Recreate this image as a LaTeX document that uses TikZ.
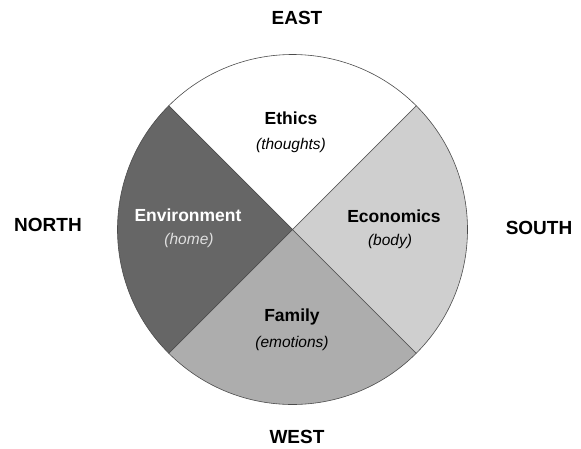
\documentclass[tikz,border=0pt]{standalone}
\usepackage{fontspec}
\setmainfont{Liberation Sans}
\begin{document}
\begin{tikzpicture}[x=1pt,y=-1pt,
  sector/.style={draw=black!70,line width=0.6pt},
  dir/.style={font=\bfseries\fontsize{19}{21}\selectfont},
  ttl/.style={font=\bfseries\fontsize{17.5}{19}\selectfont},
  sub/.style={font=\itshape\fontsize{15.5}{17}\selectfont}]
\useasboundingbox (0,0) rectangle (581,448);
\coordinate (c) at (292.5,229.5);
\def\R{175}
% bottom (Family)
\draw[sector,fill=black!32] (c) -- ++(45:\R) arc[start angle=45,end angle=135,radius=\R] -- cycle;
% right (Economics)
\draw[sector,fill=black!19] (c) -- ++(-45:\R) arc[start angle=-45,end angle=45,radius=\R] -- cycle;
% top (Ethics)
\draw[sector,fill=white] (c) -- ++(-135:\R) arc[start angle=-135,end angle=-45,radius=\R] -- cycle;
% left (Environment)
\draw[sector,fill=black!60] (c) -- ++(135:\R) arc[start angle=135,end angle=225,radius=\R] -- cycle;
\node[dir] (north) at (48,225) {NORTH};
\node[dir] (south) at (539,228) {SOUTH};
\node[dir] (east) at (297,17.5) {EAST};
\node[dir] (west) at (297,437) {WEST};
\node[ttl] (ethics) at (291,118) {Ethics};
\node[sub] (thoughts) at (291,145) {(thoughts)};
\node[ttl,text=white] (env) at (188,215) {Environment};
\node[sub,text=black!12] (home) at (189,240.5) {(home)};
\node[ttl] (eco) at (394,216) {Economics};
\node[sub] (body) at (390,241.5) {(body)};
\node[ttl] (fam) at (292,317) {Family};
\node[sub] (emo) at (292,343) {(emotions)};
\end{tikzpicture}
\end{document}
